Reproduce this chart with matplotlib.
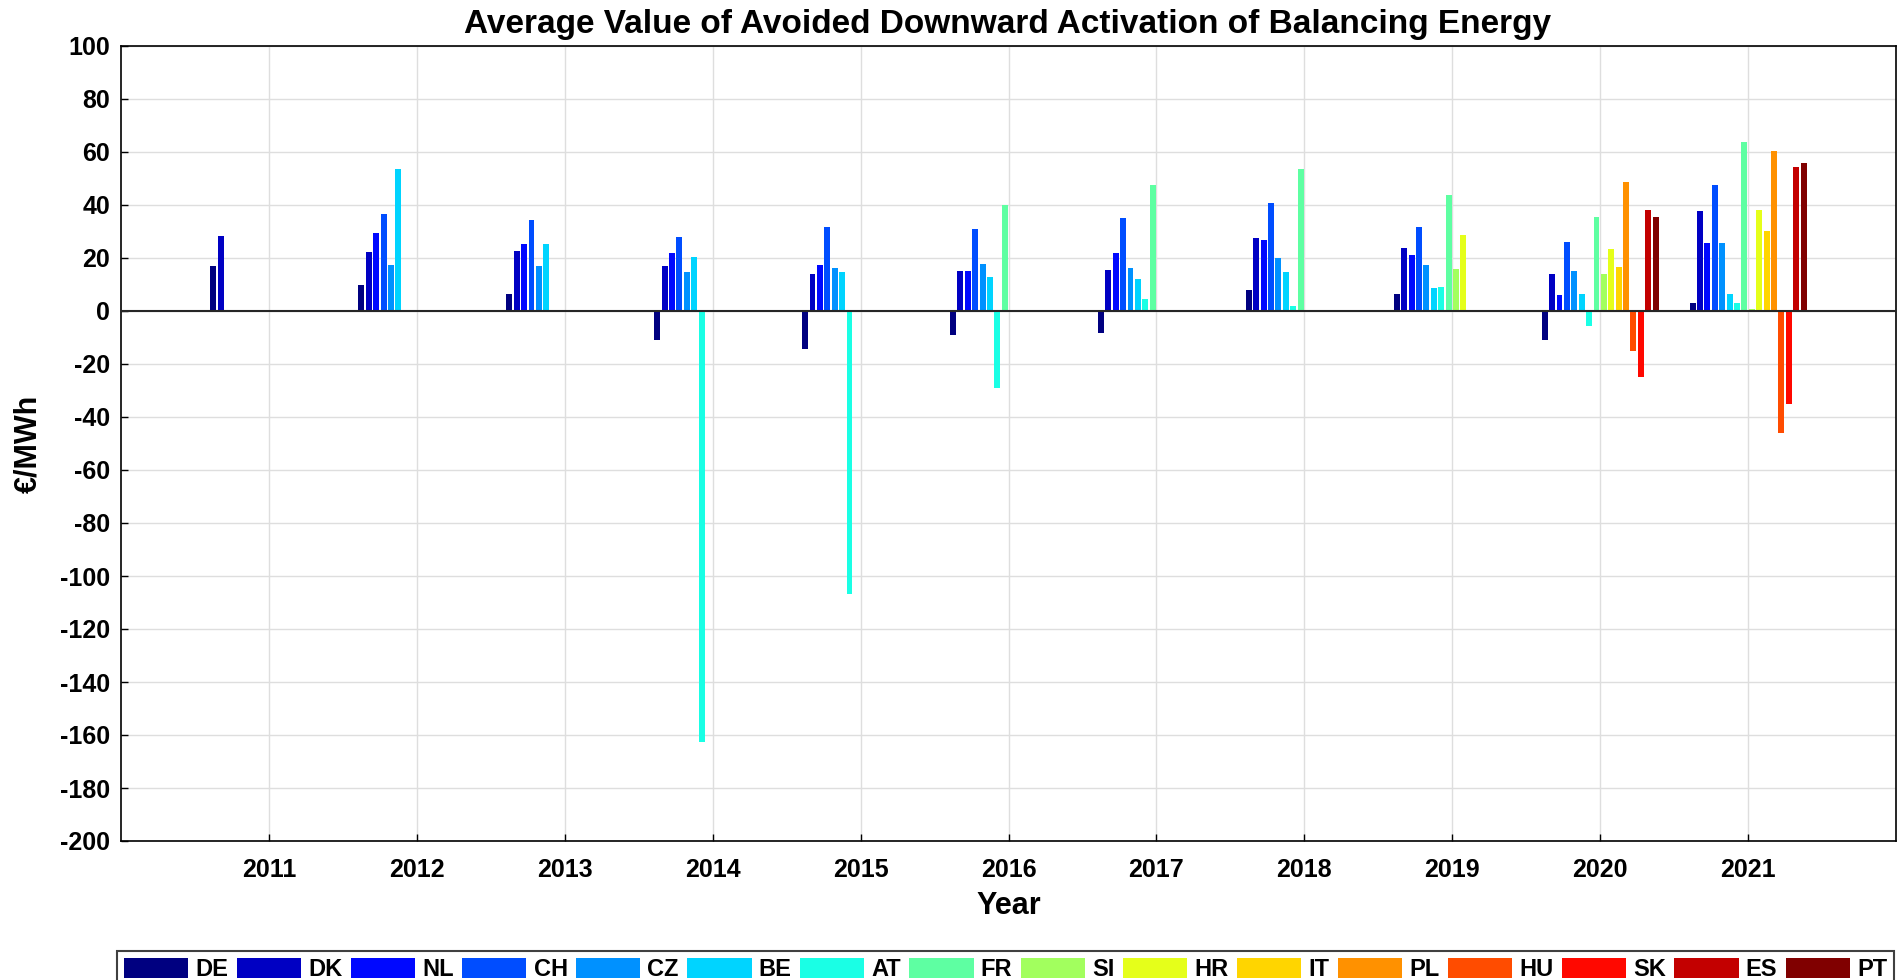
import numpy as np
import matplotlib
matplotlib.use("Agg")
import matplotlib.pyplot as plt

plt.rcParams['font.family'] = ['Liberation Sans', 'DejaVu Sans']
plt.rcParams['axes.unicode_minus'] = False

nan = np.nan
years = [2011, 2012, 2013, 2014, 2015, 2016, 2017, 2018, 2019, 2020, 2021]
countries = ['DE', 'DK', 'NL', 'CH', 'CZ', 'BE', 'AT', 'FR', 'SI', 'HR', 'IT', 'PL', 'HU', 'SK', 'ES', 'PT']

DE = [17.1, 9.9, 6.5, -10.8, -14.2, -8.9, -8.2, 8.1, 6.5, -10.8, 3.2]
DK = [28.4, 22.4, 22.8, 17.1, 14.1, 15.2, 15.6, 27.7, 23.9, 14.1, 37.6]
NL = [nan, 29.6, 25.4, 22.0, 17.5, 15.2, 22.0, 26.9, 21.3, 6.2, 25.5]
CH = [nan, 36.7, 34.5, 28.1, 31.8, 31.1, 35.2, 40.9, 31.8, 26.2, 47.4]
CZ = [nan, 17.5, 17.1, 14.8, 16.4, 17.9, 16.4, 20.1, 17.5, 15.2, 25.5]
BE = [nan, 53.7, 25.4, 20.5, 14.8, 13.0, 12.2, 14.8, 8.8, 6.5, 6.6]
AT = [nan, nan, nan, -162.5, -106.7, -28.9, 4.7, 2.0, 9.2, -5.5, 3.2]
FR = [nan, nan, nan, nan, nan, 40.1, 47.7, 53.7, 43.9, 35.6, 63.7]
SI = [nan, nan, nan, nan, nan, nan, nan, nan, 16.0, 14.1, 0.9]
HR = [nan, nan, nan, nan, nan, nan, nan, nan, 28.8, 23.5, 38.3]
IT = [nan, nan, nan, nan, nan, nan, nan, nan, nan, 16.7, 30.0]
PL = [nan, nan, nan, nan, nan, nan, nan, nan, nan, 48.8, 60.3]
HU = [nan, nan, nan, nan, nan, nan, nan, nan, nan, -15.0, -46.0]
SK = [nan, nan, nan, nan, nan, nan, nan, nan, nan, -24.8, -35.1]
ES = [nan, nan, nan, nan, nan, nan, nan, nan, nan, 38.2, 54.2]
PT = [nan, nan, nan, nan, nan, nan, nan, nan, nan, 35.6, 55.7]

series = [DE, DK, NL, CH, CZ, BE, AT, FR, SI, HR, IT, PL, HU, SK, ES, PT]
yticks = list(range(-200, 101, 20))


def matlab_jet(m):
    t = np.linspace(0, 1, m)
    r = np.clip(np.minimum(4 * t - 1.5, -4 * t + 4.5), 0, 1)
    g = np.clip(np.minimum(4 * t - 0.5, -4 * t + 3.5), 0, 1)
    b = np.clip(np.minimum(4 * t + 0.5, -4 * t + 2.5), 0, 1)
    return np.stack([r, g, b], axis=1)


W, H = 1898, 980
fig = plt.figure(figsize=(W / 100, H / 100), dpi=100)
ax = fig.add_axes([121 / W, 1 - 841 / H, (1896 - 121) / W, (841 - 46) / H])

n = len(countries)
colors = matlab_jet(n)
step = 0.8 / n
x = np.array(years, dtype=float)
handles = []
for i, (name, vals) in enumerate(zip(countries, series)):
    off = (i - (n - 1) / 2) * step
    b = ax.bar(x + off, vals, width=step * 0.8, color=colors[i], label=name,
               linewidth=0, zorder=3)
    handles.append(b)

ax.axhline(0, color='#262626', lw=1.5, zorder=4)
ax.set_xlim(2010, 2022)
ax.set_ylim(-200, 100)
ax.set_xticks(years)
ax.set_yticks(yticks)
ax.grid(True, color='#dedede', lw=1, zorder=0)
ax.set_axisbelow(True)
ax.tick_params(direction='in', length=5, width=1, labelsize=18)
ax.tick_params(axis='x', pad=12)
ax.tick_params(axis='y', pad=8)
for lab in ax.get_xticklabels() + ax.get_yticklabels():
    lab.set_fontweight('bold')
for s in ax.spines.values():
    s.set_linewidth(1.2)
    s.set_color('black')

fig.text(1008 / W, 1 - 24 / H,
         'Average Value of Avoided Downward Activation of Balancing Energy',
         fontsize=24, fontweight='bold', ha='center', va='center')
ax.set_xlabel('Year', fontsize=22, fontweight='bold', labelpad=6.5)
ax.set_ylabel('€/MWh', fontsize=22, fontweight='bold')
ax.yaxis.set_label_coords((43 - 121) / 1775, 0.5)

leg = fig.legend(handles=handles, labels=countries, ncol=16, loc='upper left',
                 bbox_to_anchor=(117 / W, 1 - 951 / H), borderaxespad=0,
                 prop={'weight': 'bold', 'size': 17},
                 handlelength=2.72, handleheight=0.88, handletextpad=0.3,
                 columnspacing=0.36, borderpad=0.3, fancybox=False,
                 framealpha=1, edgecolor='#404040')
leg.get_frame().set_linewidth(1.5)

fig.savefig('out.png', dpi=100)
